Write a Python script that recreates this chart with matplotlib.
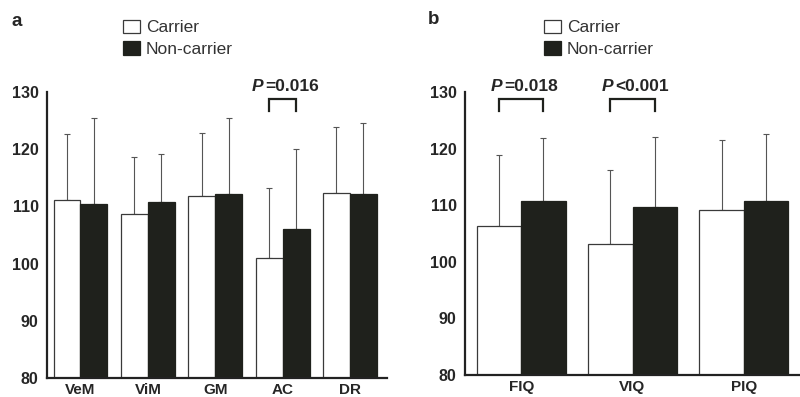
import matplotlib
matplotlib.use("Agg")
import matplotlib.pyplot as plt
import numpy as np

plt.rcParams["font.family"] = ["Liberation Sans", "DejaVu Sans"]

# panel a: memory subscales
A_LABELS = ["VeM", "ViM", "GM", "AC", "DR"]
A_CARRIER = [111.2, 108.6, 111.9, 100.9, 112.3]
A_CARRIER_SD = [11.4, 10.1, 10.9, 12.4, 11.5]
A_NONCARRIER = [110.5, 110.8, 112.2, 106.0, 112.1]
A_NONCARRIER_SD = [15.0, 8.3, 13.2, 14.0, 12.4]

# panel b: IQ scores
B_LABELS = ["FIQ", "VIQ", "PIQ"]
B_CARRIER = [106.3, 103.1, 109.2]
B_CARRIER_SD = [12.5, 13.1, 12.4]
B_NONCARRIER = [110.8, 109.6, 110.8]
B_NONCARRIER_SD = [11.1, 12.5, 11.7]

# significance brackets: (group index, label)
A_SIG = [(3, ("P", "=0.016"))]
B_SIG = [(0, ("P", "=0.018")), (1, ("P", "<0.001"))]

DARK = "#1f211c"
TEXT = "#262626"
BAR_W = 0.4


def draw_panel(ax, labels, carrier, carrier_sd, noncarrier, noncarrier_sd, sigs, xlim):
    x = np.arange(len(labels))
    ax.bar(x - BAR_W / 2, carrier, BAR_W, color="white",
           edgecolor="#3a3a3a", linewidth=0.9, label="Carrier", zorder=2)
    ax.bar(x + BAR_W / 2, noncarrier, BAR_W, color=DARK,
           edgecolor=DARK, linewidth=0.9, label="Non-carrier", zorder=2)
    zeros = np.zeros(len(labels))
    ax.errorbar(x - BAR_W / 2, carrier, yerr=[zeros, carrier_sd], fmt="none",
                ecolor="#555555", elinewidth=0.8, capsize=2, capthick=0.8, zorder=1)
    ax.errorbar(x + BAR_W / 2, noncarrier, yerr=[zeros, noncarrier_sd], fmt="none",
                ecolor="#555555", elinewidth=0.8, capsize=2, capthick=0.8, zorder=1)

    for idx, (p, rest) in sigs:
        x0, x1 = idx - BAR_W / 2, idx + BAR_W / 2
        ax.plot([x0, x0, x1, x1], [126.6, 128.8, 128.8, 126.6], color=DARK,
                linewidth=1.6, clip_on=False, solid_joinstyle="miter")
        t = ax.annotate(p, xy=(idx, 129.6), xytext=(-31, 0), textcoords="offset pixels",
                        fontsize=12.5, fontweight="bold", fontstyle="italic",
                        color=TEXT, ha="left", va="bottom", annotation_clip=False)
        ax.annotate(rest, xy=(1, 0), xycoords=t, xytext=(1.5, 0), textcoords="offset points",
                    fontsize=12.5, fontweight="bold", color=TEXT, ha="left", va="bottom")

    ax.set_ylim(80, 130)
    ax.set_xlim(*xlim)
    ax.set_yticks([80, 90, 100, 110, 120, 130])
    ax.set_xticks(x)
    ax.set_xticklabels(labels)
    ax.tick_params(axis="both", length=0, labelcolor=TEXT)
    ax.tick_params(axis="y", pad=6, labelsize=11.5)
    ax.tick_params(axis="x", pad=3.5, labelsize=11)
    for lbl in ax.get_xticklabels() + ax.get_yticklabels():
        lbl.set_fontweight("bold")
    for side in ["top", "right"]:
        ax.spines[side].set_visible(False)
    for side in ["left", "bottom"]:
        ax.spines[side].set_linewidth(1.6)
        ax.spines[side].set_color("#222222")


fig = plt.figure(figsize=(8.0, 3.97), dpi=100)
ax_a = fig.add_axes([0.05875, 0.0479, 0.425, 0.7204])
ax_b = fig.add_axes([0.58125, 0.0554, 0.41875, 0.7128])

draw_panel(ax_a, A_LABELS, A_CARRIER, A_CARRIER_SD, A_NONCARRIER, A_NONCARRIER_SD,
           A_SIG, (-0.497, 4.55))
draw_panel(ax_b, B_LABELS, B_CARRIER, B_CARRIER_SD, B_NONCARRIER, B_NONCARRIER_SD,
           B_SIG, (-0.505, 2.505))

fig.text(12 / 800, 1 - 22 / 397, "a", fontsize=13.5, fontweight="bold", color=TEXT,
         ha="left", va="center")
fig.text(428 / 800, 1 - 20 / 397, "b", fontsize=13.5, fontweight="bold", color=TEXT,
         ha="left", va="center")

for ax, x0 in [(ax_a, 114 / 800), (ax_b, 535 / 800)]:
    ax.legend(loc="upper left", bbox_to_anchor=(x0, 1 - 11 / 397),
              bbox_transform=fig.transFigure, frameon=False, fontsize=12.5,
              handlelength=1.0, handleheight=0.8, handletextpad=0.35,
              labelspacing=0.35, borderpad=0, labelcolor="#333333")

fig.savefig("out.png", dpi=100, facecolor="white")
